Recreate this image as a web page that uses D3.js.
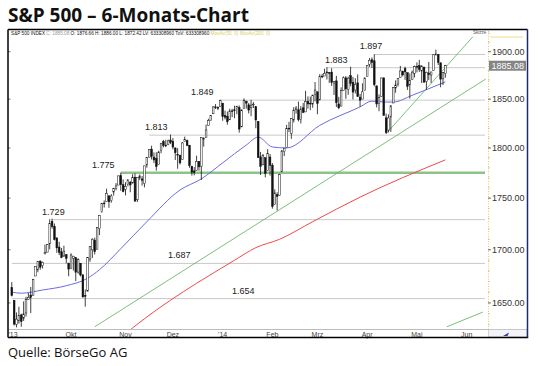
<!DOCTYPE html>
<html><head><meta charset="utf-8">
<script src="https://cdn.jsdelivr.net/npm/d3@7"></script>
<style>
html,body{margin:0;padding:0;background:#fff;}
svg{display:block;}
</style></head>
<body>
<svg id="chart" width="540" height="366"></svg>
<script>
// ---------- DATA ----------
const dates = [
"2013-08-26","2013-08-27","2013-08-28","2013-08-29","2013-08-30",
"2013-09-03","2013-09-04","2013-09-05","2013-09-06","2013-09-09","2013-09-10","2013-09-11","2013-09-12","2013-09-13","2013-09-16","2013-09-17","2013-09-18","2013-09-19","2013-09-20","2013-09-23","2013-09-24","2013-09-25","2013-09-26","2013-09-27","2013-09-30",
"2013-10-01","2013-10-02","2013-10-03","2013-10-04","2013-10-07","2013-10-08","2013-10-09","2013-10-10","2013-10-11","2013-10-14","2013-10-15","2013-10-16","2013-10-17","2013-10-18","2013-10-21","2013-10-22","2013-10-23","2013-10-24","2013-10-25","2013-10-28","2013-10-29","2013-10-30","2013-10-31",
"2013-11-01","2013-11-04","2013-11-05","2013-11-06","2013-11-07","2013-11-08","2013-11-11","2013-11-12","2013-11-13","2013-11-14","2013-11-15","2013-11-18","2013-11-19","2013-11-20","2013-11-21","2013-11-22","2013-11-25","2013-11-26","2013-11-27","2013-11-29",
"2013-12-02","2013-12-03","2013-12-04","2013-12-05","2013-12-06","2013-12-09","2013-12-10","2013-12-11","2013-12-12","2013-12-13","2013-12-16","2013-12-17","2013-12-18","2013-12-19","2013-12-20","2013-12-23","2013-12-24","2013-12-26","2013-12-27","2013-12-30","2013-12-31",
"2014-01-02","2014-01-03","2014-01-06","2014-01-07","2014-01-08","2014-01-09","2014-01-10","2014-01-13","2014-01-14","2014-01-15","2014-01-16","2014-01-17","2014-01-21","2014-01-22","2014-01-23","2014-01-24","2014-01-27","2014-01-28","2014-01-29","2014-01-30","2014-01-31",
"2014-02-03","2014-02-04","2014-02-05","2014-02-06","2014-02-07","2014-02-10","2014-02-11","2014-02-12","2014-02-13","2014-02-14","2014-02-18","2014-02-19","2014-02-20","2014-02-21","2014-02-24","2014-02-25","2014-02-26","2014-02-27","2014-02-28",
"2014-03-03","2014-03-04","2014-03-05","2014-03-06","2014-03-07","2014-03-10","2014-03-11","2014-03-12","2014-03-13","2014-03-14","2014-03-17","2014-03-18","2014-03-19","2014-03-20","2014-03-21","2014-03-24","2014-03-25","2014-03-26","2014-03-27","2014-03-28","2014-03-31",
"2014-04-01","2014-04-02","2014-04-03","2014-04-04","2014-04-07","2014-04-08","2014-04-09","2014-04-10","2014-04-11","2014-04-14","2014-04-15","2014-04-16","2014-04-17","2014-04-21","2014-04-22","2014-04-23","2014-04-24","2014-04-25","2014-04-28","2014-04-29","2014-04-30",
"2014-05-01","2014-05-02","2014-05-05","2014-05-06","2014-05-07","2014-05-08","2014-05-09","2014-05-12","2014-05-13","2014-05-14","2014-05-15","2014-05-16","2014-05-19"
];
const futureSessions = ["2014-05-20","2014-05-21","2014-05-22","2014-05-23","2014-05-27","2014-05-28","2014-05-29","2014-05-30","2014-06-02"];

const opens = [
1664.3,1652.5,1630.3,1633.5,1638.9,
1635.9,1640.7,1653.3,1657.4,1656.9,1675.1,1681.0,1689.2,1685.0,1696.0,1697.7,1705.7,1727.3,1722.4,1711.4,1702.6,1698.0,1694.1,1695.5,1687.3,
1682.4,1691.9,1692.4,1678.8,1687.2,1676.2,1656.9,1660.9,1691.1,1699.9,1709.2,1700.5,1720.2,1736.7,1745.2,1746.5,1752.3,1747.5,1756.0,1759.4,1762.9,1772.3,1763.2,
1758.7,1763.4,1765.7,1765.0,1770.7,1748.4,1769.9,1769.0,1764.4,1782.8,1790.7,1798.8,1790.8,1789.6,1783.5,1797.2,1806.3,1802.9,1803.5,1808.0,
1806.6,1800.1,1793.6,1792.8,1788.4,1806.6,1807.6,1802.8,1781.7,1777.0,1777.5,1786.5,1781.5,1809.0,1810.4,1822.9,1828.0,1834.9,1842.0,1841.5,1842.6,
1845.9,1833.2,1832.3,1828.7,1837.9,1839.0,1840.1,1841.3,1821.4,1840.5,1848.0,1844.2,1841.1,1844.7,1842.3,1827.0,1791.0,1783.0,1790.2,1777.2,1790.9,
1782.7,1743.8,1753.4,1752.9,1776.0,1796.2,1800.5,1820.1,1814.8,1828.5,1839.0,1838.9,1829.2,1841.1,1836.8,1847.7,1845.8,1844.9,1855.1,
1857.7,1849.2,1874.1,1874.2,1878.5,1877.9,1878.3,1866.2,1869.1,1845.1,1842.8,1858.9,1872.3,1860.1,1874.5,1867.7,1859.5,1867.1,1852.1,1850.1,1859.2,
1874.0,1886.6,1891.4,1890.3,1863.9,1845.5,1852.6,1872.3,1830.7,1818.2,1831.5,1846.0,1861.7,1865.8,1872.6,1879.3,1882.0,1877.7,1865.0,1870.8,1877.1,
1884.4,1885.3,1879.5,1883.7,1868.5,1877.4,1875.3,1880.0,1896.8,1897.1,1888.2,1871.2,1876.66
];
const highs = [
1669.5,1652.5,1641.2,1646.4,1640.1,
1651.4,1655.7,1659.2,1664.8,1672.4,1684.1,1689.1,1689.9,1688.7,1704.9,1705.5,1729.4,1729.9,1725.2,1711.4,1707.6,1701.7,1703.9,1695.5,1687.3,
1696.6,1693.9,1692.4,1691.9,1687.2,1676.8,1662.5,1692.6,1703.4,1711.0,1711.6,1721.8,1733.5,1745.3,1747.8,1759.3,1752.3,1753.9,1759.8,1764.8,1772.1,1775.2,1768.5,
1765.7,1768.8,1767.0,1773.7,1774.5,1770.8,1773.4,1771.8,1782.0,1791.0,1798.2,1802.3,1795.5,1795.7,1797.2,1804.8,1808.1,1808.4,1808.4,1813.6,
1810.0,1800.1,1799.8,1792.8,1806.0,1811.5,1808.5,1803.0,1782.0,1780.8,1792.2,1786.8,1811.1,1810.9,1823.8,1829.8,1833.3,1842.8,1844.9,1842.5,1849.4,
1845.9,1838.2,1837.2,1840.1,1840.0,1843.2,1843.2,1843.5,1839.3,1850.8,1848.0,1846.0,1849.3,1846.9,1842.3,1827.0,1796.0,1793.9,1790.2,1798.8,1793.9,
1784.8,1758.7,1755.8,1774.1,1798.0,1799.9,1823.5,1826.6,1830.3,1841.7,1842.9,1847.5,1842.8,1846.1,1858.7,1852.9,1852.7,1854.5,1867.9,
1857.7,1876.2,1876.5,1881.9,1883.6,1877.9,1882.4,1868.4,1874.4,1852.4,1862.3,1873.8,1874.1,1873.5,1884.0,1873.3,1871.9,1875.9,1855.6,1866.6,1872.4,
1885.8,1893.2,1893.8,1897.3,1864.0,1855.0,1872.4,1872.5,1835.1,1834.2,1844.0,1862.3,1869.6,1871.9,1884.9,1879.8,1884.1,1877.7,1877.0,1880.0,1885.2,
1888.6,1891.3,1885.5,1883.7,1878.8,1889.1,1878.6,1897.1,1902.2,1897.1,1888.2,1878.3,1886.0
];
const lows = [
1656.0,1629.1,1627.5,1630.9,1628.0,
1633.4,1637.4,1653.1,1640.6,1656.9,1675.1,1678.7,1681.0,1682.2,1696.0,1697.7,1700.4,1720.2,1708.9,1697.1,1694.9,1691.9,1693.1,1687.1,1674.9,
1682.1,1680.3,1670.4,1677.3,1674.7,1655.0,1646.5,1660.9,1688.5,1692.1,1695.5,1700.5,1714.1,1735.7,1740.8,1746.5,1740.5,1745.5,1752.5,1757.7,1762.9,1757.2,1755.7,
1752.7,1761.6,1755.8,1764.4,1746.2,1746.2,1767.8,1762.3,1760.6,1780.2,1790.7,1788.4,1784.7,1777.2,1783.5,1794.7,1800.6,1800.8,1802.8,1803.9,
1798.6,1787.9,1779.1,1783.4,1788.4,1806.6,1801.8,1780.1,1772.3,1772.5,1777.5,1777.2,1767.9,1801.3,1810.4,1822.9,1828.0,1834.9,1839.8,1838.8,1842.4,
1827.7,1829.1,1823.7,1828.7,1831.4,1830.4,1834.4,1815.5,1821.4,1840.5,1840.3,1835.2,1832.4,1840.9,1820.1,1790.3,1772.9,1783.0,1770.5,1777.2,1772.3,
1739.7,1743.8,1737.9,1752.6,1776.0,1791.8,1800.5,1816.0,1809.2,1825.9,1835.0,1827.0,1824.9,1835.6,1836.8,1840.2,1838.6,1841.1,1847.7,
1834.4,1849.2,1871.9,1874.2,1870.6,1867.0,1863.9,1854.4,1841.9,1839.6,1842.8,1858.9,1850.4,1854.6,1863.5,1849.7,1856.0,1852.6,1842.1,1850.1,1859.2,
1874.0,1883.8,1882.7,1863.3,1841.5,1837.5,1852.4,1833.1,1814.4,1815.8,1816.3,1846.0,1856.7,1863.2,1872.6,1873.9,1870.2,1859.7,1850.6,1870.8,1872.7,
1878.0,1878.5,1866.8,1867.7,1859.8,1870.1,1867.0,1880.0,1896.0,1885.8,1862.4,1864.8,1872.42
];
const closes = [
1656.8,1630.5,1635.0,1638.2,1633.0,
1639.8,1653.1,1655.1,1655.2,1671.7,1684.0,1689.1,1683.4,1688.0,1697.6,1704.8,1725.5,1722.3,1709.9,1701.8,1697.4,1692.8,1698.7,1691.8,1681.6,
1695.0,1693.9,1678.7,1690.5,1676.1,1655.5,1656.4,1692.6,1703.2,1710.1,1698.1,1721.5,1733.2,1744.5,1744.7,1754.7,1746.4,1752.1,1759.8,1762.1,1772.0,1763.3,1756.5,
1761.6,1767.9,1763.0,1770.5,1747.2,1770.6,1771.9,1767.7,1782.0,1790.6,1798.2,1791.5,1787.9,1781.4,1795.9,1804.8,1802.5,1802.8,1807.2,1805.8,
1800.9,1795.2,1792.8,1785.0,1805.1,1808.4,1802.6,1782.2,1775.5,1775.3,1786.5,1781.0,1810.7,1809.6,1818.3,1828.0,1833.3,1842.0,1841.4,1841.1,1848.4,
1832.0,1831.4,1826.8,1837.9,1837.5,1838.1,1842.4,1819.2,1838.9,1848.4,1845.9,1838.7,1843.8,1844.9,1828.5,1790.3,1781.6,1792.5,1774.2,1794.2,1782.6,
1741.9,1755.2,1751.6,1773.4,1797.0,1799.8,1819.8,1819.3,1829.8,1838.6,1840.8,1828.8,1839.8,1836.3,1847.6,1845.1,1845.2,1854.3,1859.5,
1845.7,1873.9,1873.8,1877.0,1878.0,1877.2,1867.6,1868.2,1846.3,1841.1,1858.8,1872.3,1860.8,1872.0,1866.5,1857.4,1865.6,1852.6,1849.0,1857.6,1872.3,
1885.5,1890.9,1888.8,1865.1,1845.0,1852.0,1872.2,1833.1,1815.7,1830.6,1843.0,1862.3,1864.9,1871.9,1879.6,1875.4,1878.6,1863.4,1869.4,1878.3,1884.0,
1883.7,1881.1,1884.7,1867.7,1878.2,1875.6,1878.5,1896.7,1897.5,1888.5,1870.9,1877.9,1885.08
];

// 50-day moving average (blue): session index -> value
const ma50Idx = [0,4,13,23,32,37,46,57,71,80,89,99,104,110,116,130,147,152,158,161,169,182,183];
const ma50Val = [1660,1659,1662,1666,1673,1681,1701,1727,1758,1769,1785,1803,1811,1801,1800,1823,1842,1848,1847,1847,1854,1867,1868];
// 200-day moving average (red)
const ma200Idx = [47,51,94,103,113,127,147,183];
const ma200Val = [1620,1627,1690,1702,1710,1727,1751,1788];

// Horizontal levels
const levelValues = [1897,1883,1849,1813,1775,1729,1687,1654];
const levelLabels = ["1.897","1.883","1.849","1.813","1.775","1.729","1.687","1.654"];
const levelStartIdx = [153,133,88,58,46,17,0,0];
const levelLabelIdx = [146.9,132.2,75.6,56.2,33.9,12.8,65.9,92.9];
const supportLevel = 1775;

// Trend lines: [sessionIdx, value] pairs
const trendLines = [
  [[35,1628],[200,1871]],
  [[158,1814.4],[194.6,1916]],
  [[183.6,1628],[198.8,1641.5]]
];

// Axis ticks
const yTicks = [1650,1700,1750,1800,1850,1900];
const monthLabels = ["'13","Okt","Nov","Dez","'14","Feb","Mrz","Apr","Mai","Jun"];
const monthStarts = ["2013-09-03","2013-10-01","2013-11-01","2013-12-02","2014-01-02","2014-02-03","2014-03-03","2014-04-01","2014-05-01","2014-06-02"];

const lastClose = 1885.08;
const headerMain = "S&P 500 INDEX";
const headerClose = "C: 1885.08";
const headerRest = "O: 1876.66  H: 1886.00  L: 1872.42  LV: 633308960  ToV: 633308960";
const headerMA = "MovAv(50, 0)   MovAv(200, 0)";

// ---------- LAYOUT ----------
const svg = d3.select("#chart");
const plot = {left: 8, right: 488, top: 31, bottom: 329};
const frame = {left: 8, right: 527.5, top: 29.5, bottom: 337.5};
const sessions = dates.concat(futureSessions);

const x = d3.scaleLinear().domain([-1.6, 201]).range([plot.left, plot.right]);
const y = d3.scaleLog().domain([1626, 1922.2]).range([plot.bottom, plot.top]);

svg.append("rect").attr("width",540).attr("height",366).attr("fill","#fff");

// Title
svg.append("text").attr("x",8).attr("y",22)
  .attr("font-family","'Open Sans', sans-serif").attr("font-weight",700)
  .attr("font-size",19).attr("fill","#111").text("S&P 500 \u2013 6-Monats-Chart");

// Source
svg.append("text").attr("x",8).attr("y",357)
  .attr("font-family","'Open Sans', sans-serif")
  .attr("font-size",13).attr("fill","#111").text("Quelle: BörseGo AG");

svg.append("defs").append("clipPath").attr("id","clip")
  .append("rect").attr("x",plot.left).attr("y",plot.top)
  .attr("width",plot.right-plot.left).attr("height",plot.bottom-plot.top);

const g = svg.append("g").attr("clip-path","url(#clip)");
const lineEnd = plot.right - 3;

// Level lines
levelValues.forEach((v,i)=>{
  const yy = y(v);
  const isSupport = v === supportLevel;
  g.append("line")
    .attr("x1", x(levelStartIdx[i])).attr("x2", lineEnd)
    .attr("y1", yy).attr("y2", yy)
    .attr("stroke", isSupport ? "#8fc28a" : "#c9c9c9")
    .attr("stroke-width", isSupport ? 2.5 : 1);
  g.append("text")
    .attr("x", x(levelLabelIdx[i])).attr("y", yy - 5)
    .attr("font-family","'Liberation Sans', Arial, sans-serif")
    .attr("font-size",9).attr("fill","#222").text(levelLabels[i]);
});

// Trend lines
trendLines.forEach(t=>{
  g.append("line")
    .attr("x1", x(t[0][0])).attr("y1", y(t[0][1]))
    .attr("x2", x(t[1][0])).attr("y2", y(t[1][1]))
    .attr("stroke","#5cae5c").attr("stroke-width",0.8);
});

// Moving averages
const maLine = d3.line().x(d=>x(d[0])).y(d=>y(d[1])).curve(d3.curveMonotoneX);
g.append("path").datum(ma200Idx.map((d,i)=>[d,ma200Val[i]]))
  .attr("d",maLine).attr("fill","none").attr("stroke","#ee4b4b").attr("stroke-width",1);
g.append("path").datum(ma50Idx.map((d,i)=>[d,ma50Val[i]]))
  .attr("d",maLine).attr("fill","none").attr("stroke","#6b6be0").attr("stroke-width",1);

// Candles
const bw = 1.7;
dates.forEach((d,i)=>{
  const cx = x(i);
  const up = closes[i] >= opens[i];
  g.append("line").attr("x1",cx).attr("x2",cx)
    .attr("y1",y(highs[i])).attr("y2",y(lows[i]))
    .attr("stroke","#111").attr("stroke-width",0.8);
  const top = y(Math.max(opens[i],closes[i]));
  const bot = y(Math.min(opens[i],closes[i]));
  g.append("rect").attr("x",cx-bw/2).attr("y",top)
    .attr("width",bw).attr("height",Math.max(0.8,bot-top))
    .attr("fill", up ? "#fff" : "#111")
    .attr("stroke","#111").attr("stroke-width",0.5);
});

// Header row inside chart
const hdr = svg.append("text").attr("x",11).attr("y",35)
  .attr("font-family","'Liberation Sans', Arial, sans-serif").attr("font-size",4.7);
hdr.append("tspan").attr("fill","#111").text(headerMain+" ");
hdr.append("tspan").attr("fill","#999").text(headerClose+" ");
hdr.append("tspan").attr("fill","#111").text(headerRest+"  ");
hdr.append("tspan").attr("fill","#d6d25a").text(headerMA);
svg.append("text").attr("x",473).attr("y",34)
  .attr("font-family","'Liberation Sans', Arial, sans-serif").attr("font-size",4.5)
  .attr("fill","#555").text("Skizze");
svg.append("line").attr("x1",490).attr("x2",523).attr("y1",37).attr("y2",37)
  .attr("stroke","#eedc8c").attr("stroke-width",1);

// Right axis (yellow dotted)
svg.append("line").attr("x1",plot.right+0.5).attr("x2",plot.right+0.5)
  .attr("y1",plot.top).attr("y2",plot.bottom)
  .attr("stroke","#e3cc6e").attr("stroke-width",1).attr("stroke-dasharray","1,1.5");
d3.range(1630,1921,10).forEach(v=>{
  svg.append("line").attr("x1",plot.right).attr("x2",plot.right+2)
    .attr("y1",y(v)).attr("y2",y(v)).attr("stroke","#d9c26a").attr("stroke-width",0.8);
});
const fmt = d3.format(".2f");
yTicks.forEach(v=>{
  svg.append("line").attr("x1",plot.right).attr("x2",plot.right+3)
    .attr("y1",y(v)).attr("y2",y(v)).attr("stroke","#555").attr("stroke-width",0.8);
  svg.append("line").attr("x1",frame.left).attr("x2",frame.left+2.5)
    .attr("y1",y(v)).attr("y2",y(v)).attr("stroke","#555").attr("stroke-width",0.8);
  svg.append("text").attr("x",492).attr("y",y(v)+3.2)
    .attr("font-family","'Liberation Sans', Arial, sans-serif")
    .attr("font-size",9).attr("fill","#333").text(fmt(v));
});

// Last price box
const ly = y(lastClose);
svg.append("rect").attr("x",489).attr("y",ly-5).attr("width",37).attr("height",10).attr("fill","#858585");
svg.append("text").attr("x",491.5).attr("y",ly+3.2)
  .attr("font-family","'Liberation Sans', Arial, sans-serif")
  .attr("font-size",9).attr("fill","#fff").text(fmt(lastClose));

// Bottom strip
svg.append("line").attr("x1",frame.left).attr("x2",frame.right)
  .attr("y1",plot.bottom+0.5).attr("y2",plot.bottom+0.5).attr("stroke","#bbb").attr("stroke-width",1);
svg.append("rect").attr("x",plot.right+0.5).attr("y",plot.bottom+0.5)
  .attr("width",frame.right-plot.right-1).attr("height",frame.bottom-plot.bottom-1)
  .attr("fill","#f4f4f8").attr("stroke","#bbb").attr("stroke-width",0.6);
svg.append("path").attr("d",`M503,336 L509,332.5 L507.5,336 Z`).attr("fill","#2b3f9a");

monthLabels.forEach((lab,i)=>{
  const idx = sessions.indexOf(monthStarts[i]);
  const first = i === 0;
  svg.append("text")
    .attr("x", first ? plot.left+0.5 : x(idx))
    .attr("y", 336.5)
    .attr("text-anchor", first ? "start" : "middle")
    .attr("font-family","'Liberation Sans', Arial, sans-serif")
    .attr("font-size",7).attr("fill","#444").text(lab);
});

// Frame
svg.append("line").attr("x1",frame.left).attr("x2",frame.right).attr("y1",frame.top).attr("y2",frame.top)
  .attr("stroke","#000").attr("stroke-width",1.5);
svg.append("line").attr("x1",frame.left).attr("x2",frame.right+0.7).attr("y1",frame.bottom).attr("y2",frame.bottom)
  .attr("stroke","#000").attr("stroke-width",1.5);
svg.append("line").attr("x1",frame.left).attr("x2",frame.left).attr("y1",frame.top).attr("y2",frame.bottom)
  .attr("stroke","#000").attr("stroke-width",1.5);
svg.append("line").attr("x1",frame.right).attr("x2",frame.right).attr("y1",frame.top).attr("y2",frame.bottom)
  .attr("stroke","#1c2a6e").attr("stroke-width",1.5);
</script>
</body></html>
